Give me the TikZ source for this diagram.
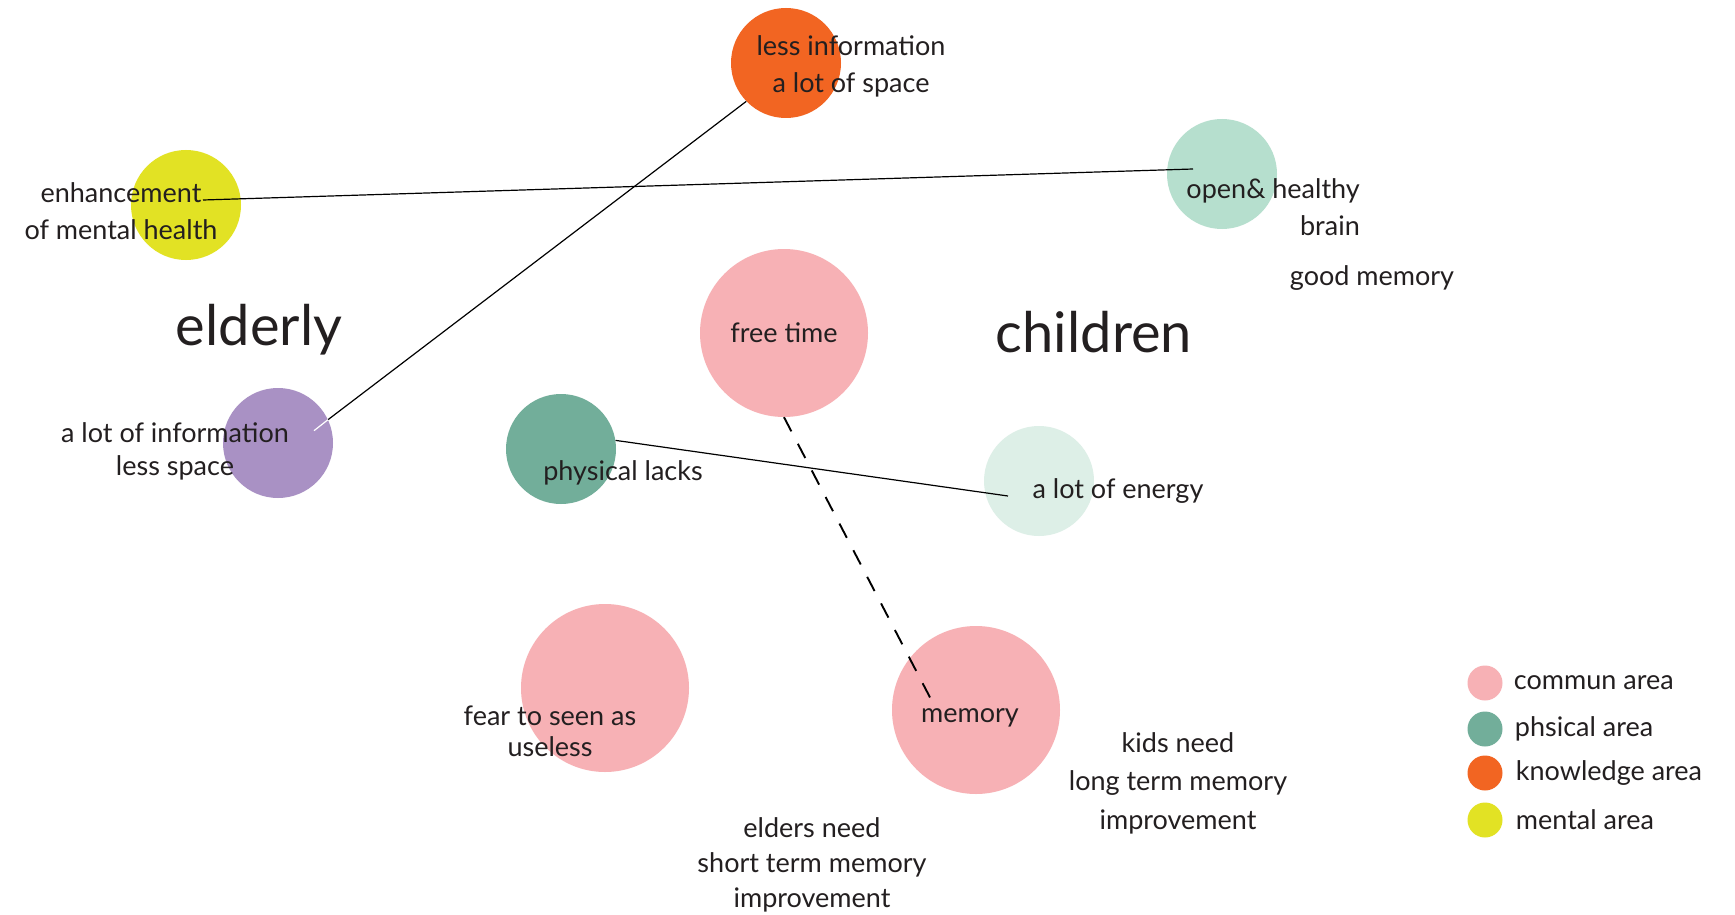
\documentclass[tikz,border=0pt]{standalone}
\usepackage{fontspec}
\setmainfont{Lato}
\usepackage{xcolor}
\usetikzlibrary{positioning,calc}

\definecolor{inkdark}{HTML}{231F20}
\definecolor{communpink}{HTML}{F7B1B5}
\definecolor{physgreen}{HTML}{72AE9A}
\definecolor{knoworange}{HTML}{F26522}
\definecolor{mentalyellow}{HTML}{E2E224}
\definecolor{mindmint}{HTML}{B6DFCE}
\definecolor{energymint}{HTML}{DDEFE7}
\definecolor{agepurple}{HTML}{A991C4}

\begin{document}
\begin{tikzpicture}[
  x=1pt, y=-1pt,
  bubble/.style={circle, inner sep=0pt, minimum size=110pt},
  bigbubble/.style={circle, inner sep=0pt, minimum size=168pt,
                    font=\fontsize{27}{37}\selectfont, text=inkdark},
  dot/.style={circle, inner sep=0pt, minimum size=35pt},
  txt/.style={align=center, inner sep=0pt, text=inkdark,
              font=\fontsize{27}{37}\selectfont},
  title/.style={inner sep=0pt, text=inkdark, font=\fontsize{56}{60}\selectfont},
  link/.style={draw=black, line width=1.2pt},
  dashlink/.style={draw=black, line width=1.9pt, dash pattern=on 16pt off 14pt}
]
\fill[white] (0,0) rectangle (1735,915);
\useasboundingbox (0,0) rectangle (1735,915);

% circles
\node[bubble, fill=knoworange] (knowledge) at (786,63) {};
\node[bubble, fill=mentalyellow] (mental) at (186,205) {};
\node[bubble, fill=mindmint] (openbrain) at (1222,174) {};
\node[bigbubble, fill=communpink] (freetime) at (784,333) {free time};
\node[bubble, fill=agepurple] (lotinfo) at (278,443) {};
\node[bubble, fill=physgreen] (physical) at (561,449) {};
\node[bubble, fill=energymint] (energy) at (1039,481) {};
\node[bigbubble, fill=communpink] (fear) at (605,688) {};
\node[bigbubble, fill=communpink] (memory) at (976,710) {};

% links
\draw[link] ([shift={(17,-5)}]mental.center) -- ([shift={(-29,-5)}]openbrain.center);
\draw[link] (knowledge.224) -- (lotinfo.25);
\draw[white, line width=1.2pt] (lotinfo.25) -- ++(-14,11);
\draw[link] (physical.9) -- ([shift={(-31,15)}]energy.center);
\draw[dashlink] (freetime.south) -- ([shift={(-41,-3)}]memory.center);

% labels
\node[txt] (knowtxt) at (851,66) {less information\\a lot of space};
\node[txt] (mentaltxt) at (121,211) {enhancement\\of mental health};
\node[txt, align=right, anchor=east] (braintxt) at (1360,207) {open\& healthy\\brain};
\node[txt] (goodmem) at (1372,278) {good memory};
\node[title] (elderly) at (259,330) {elderly};
\node[title] (children) at (1094,332) {children};
\node[txt, font=\fontsize{27}{33}\selectfont] (infotxt) at (175,451) {a lot of information\\less space};
\node[txt] (phystxt) at (623,473) {physical lacks};
\node[txt] (energytxt) at (1118,491) {a lot of energy};
\node[txt, font=\fontsize{27}{31}\selectfont] (feartxt) at (550,731) {fear to seen as\\useless};
\node[txt] (memtxt) at (970,718) {memory};
\node[txt, font=\fontsize{27}{38.5}\selectfont] (kidstxt) at (1178,783) {kids need\\long term memory\\improvement};
\node[txt, font=\fontsize{27}{35}\selectfont] (elderstxt) at (812,865) {elders need\\short term memory\\improvement};

% legend
\node[dot, fill=communpink] (lgcommun) at (1485,683) {};
\node[dot, fill=physgreen] (lgphys) at (1485,729) {};
\node[dot, fill=knoworange] (lgknow) at (1485,773) {};
\node[dot, fill=mentalyellow] (lgmental) at (1485,820) {};
\node[txt, right=11pt of lgcommun] {commun area};
\node[txt, right=12pt of lgphys] {phsical area};
\node[txt, right=13pt of lgknow] {knowledge area};
\node[txt, right=13pt of lgmental] {mental area};
\end{tikzpicture}
\end{document}
